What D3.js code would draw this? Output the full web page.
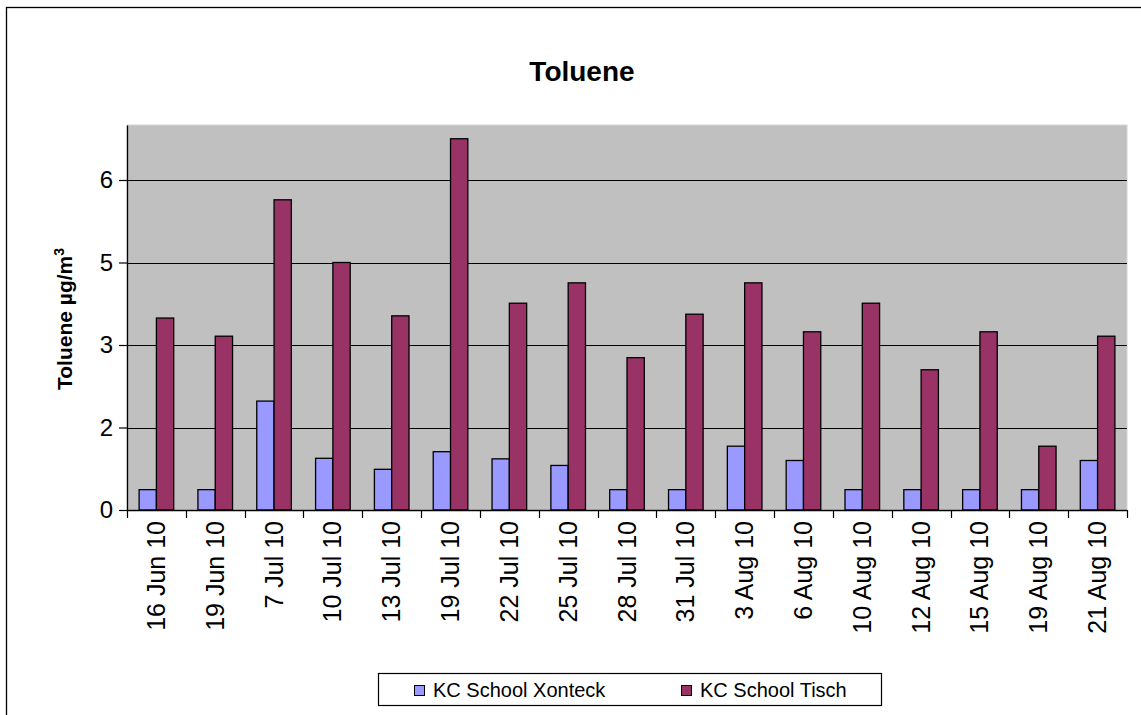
<!DOCTYPE html>
<html>
<head>
<meta charset="utf-8">
<script src="https://cdn.jsdelivr.net/npm/d3@7"></script>
<style>
  html, body { margin: 0; padding: 0; background: #fff; }
  svg { display: block; font-family: "Liberation Sans", Arial, sans-serif; }
</style>
</head>
<body>
<svg id="chart" width="1141" height="715"></svg>
<script>
const categories = ["16 Jun 10","19 Jun 10","7 Jul 10","10 Jul 10","13 Jul 10","19 Jul 10","22 Jul 10","25 Jul 10","28 Jul 10","31 Jul 10","3 Aug 10","6 Aug 10","10 Aug 10","12 Aug 10","15 Aug 10","19 Aug 10","21 Aug 10"];
const seriesNames = ["KC School Xonteck", "KC School Tisch"];
const xonteck = [0.37,0.37,1.98,0.94,0.74,1.06,0.93,0.81,0.37,0.37,1.16,0.90,0.37,0.37,0.37,0.37,0.90];
const tisch   = [3.49,3.16,5.64,4.50,3.53,6.75,3.76,4.13,2.77,3.56,4.13,3.24,3.76,2.55,3.24,1.16,3.16];
const yTickValues = [0, 1.5, 3, 4.5, 6];
const yTickLabels = ["0", "2", "3", "5", "6"];
const colors = ["#9999FF", "#993366"];

const svg = d3.select("#chart");
const plot = {left: 127, top: 125, right: 1127, bottom: 510};

// outer chart border
svg.append("rect").attr("x", 6.5).attr("y", 7.5).attr("width", 1200).attr("height", 800)
  .attr("fill", "#fff").attr("stroke", "#000").attr("stroke-width", 1.3);

const x0 = d3.scaleBand().domain(categories).range([plot.left, plot.right]).paddingInner(0).paddingOuter(0);
const gapRatio = 1.4;
const barW = x0.bandwidth() / (2 + gapRatio);
const groupOffset = barW * gapRatio / 2;
const y = d3.scaleLinear().domain([0, 7]).range([plot.bottom, plot.top]);

// plot background
svg.append("rect").attr("x", plot.left).attr("y", plot.top)
  .attr("width", plot.right - plot.left).attr("height", plot.bottom - plot.top)
  .attr("fill", "#C0C0C0").attr("stroke", "#d4d4d4").attr("stroke-width", 1);

// gridlines
svg.append("g").selectAll("line").data(yTickValues.filter(d => d > 0)).join("line")
  .attr("x1", plot.left).attr("x2", plot.right)
  .attr("y1", d => Math.round(y(d)) + 0.5).attr("y2", d => Math.round(y(d)) + 0.5)
  .attr("stroke", "#000").attr("stroke-width", 1.2);

// bars
const data = categories.map((c, i) => ({c, vals: [xonteck[i], tisch[i]]}));
const groups = svg.append("g").selectAll("g").data(data).join("g")
  .attr("transform", d => `translate(${x0(d.c) + groupOffset},0)`);
groups.selectAll("rect").data(d => d.vals).join("rect")
  .attr("x", (d, i) => i * barW)
  .attr("y", d => y(d))
  .attr("width", barW)
  .attr("height", d => y(0) - y(d))
  .attr("fill", (d, i) => colors[i])
  .attr("stroke", "#000").attr("stroke-width", 1.3);

// y axis
const yAxis = d3.axisLeft(y).tickValues(yTickValues)
  .tickFormat((d, i) => yTickLabels[i]).tickSizeInner(8).tickSizeOuter(0).tickPadding(6);
const gy = svg.append("g").attr("transform", `translate(${plot.left},0)`).call(yAxis);
gy.select(".domain").attr("stroke", "#000").attr("stroke-width", 1.3);
gy.selectAll(".tick line").attr("stroke", "#000").attr("stroke-width", 1.2);
gy.selectAll(".tick text").attr("font-size", 24).attr("fill", "#000")
  .attr("font-family", "'Liberation Sans', Arial, sans-serif");

// x axis baseline and ticks at category boundaries
svg.append("line").attr("x1", plot.left).attr("x2", plot.right)
  .attr("y1", plot.bottom + 0.5).attr("y2", plot.bottom + 0.5)
  .attr("stroke", "#000").attr("stroke-width", 1.3);
const boundaries = categories.map(c => x0(c)).concat([x0(categories[categories.length - 1]) + x0.bandwidth()]);
svg.append("g").selectAll("line").data(boundaries).join("line")
  .attr("x1", d => Math.round(d) + 0.5).attr("x2", d => Math.round(d) + 0.5)
  .attr("y1", plot.bottom).attr("y2", plot.bottom + 8)
  .attr("stroke", "#000").attr("stroke-width", 1.2);

// x labels rotated
svg.append("g").selectAll("text").data(categories).join("text")
  .attr("transform", d => `translate(${x0(d) + x0.bandwidth() / 2 + 8.5},521) rotate(-90)`)
  .attr("text-anchor", "end")
  .attr("font-size", 25).attr("fill", "#000")
  .text(d => d);

// title
svg.append("text").attr("x", 582).attr("y", 81).attr("text-anchor", "middle")
  .attr("font-size", 28).attr("font-weight", "bold").text("Toluene");

// y axis title
const yt = svg.append("text")
  .attr("transform", `translate(72,319) rotate(-90)`)
  .attr("text-anchor", "middle")
  .attr("font-size", 21).attr("font-weight", "bold");
yt.append("tspan").text("Toluene µg/m");
yt.append("tspan").attr("dy", -8).attr("font-size", 14).text("3");

// legend
svg.append("rect").attr("x", 378.5).attr("y", 673.5).attr("width", 503).attr("height", 32)
  .attr("fill", "#fff").attr("stroke", "#000").attr("stroke-width", 1.2);
const legendX = [414, 681];
const lg = svg.append("g").selectAll("g").data(seriesNames).join("g")
  .attr("transform", (d, i) => `translate(${legendX[i]},0)`);
lg.append("rect").attr("x", 0.5).attr("y", 685.5).attr("width", 10).attr("height", 10)
  .attr("fill", (d, i) => colors[i]).attr("stroke", "#000").attr("stroke-width", 1);
lg.append("text").attr("x", 19).attr("y", 697).attr("font-size", 20).text(d => d);
</script>
</body>
</html>
